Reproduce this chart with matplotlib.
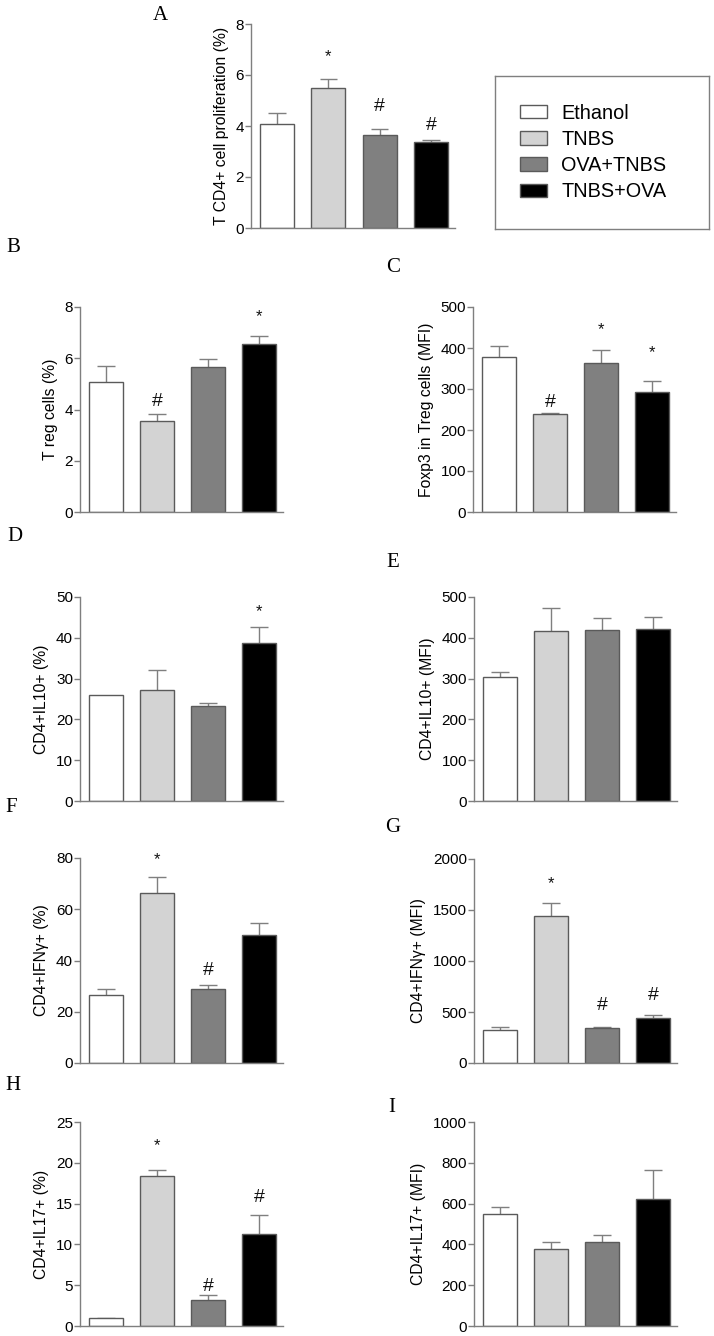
import numpy as np
import matplotlib
matplotlib.use("Agg")
import matplotlib.pyplot as plt
from matplotlib.patches import Patch

#groups and data (mean, sem, significance marks)
groups = ["Ethanol", "TNBS", "OVA+TNBS", "TNBS+OVA"]

A_mean = [4.08, 5.50, 3.64, 3.39]
A_sem = [0.43, 0.33, 0.26, 0.08]
A_sig = ["", "*", "#", "#"]
A_sig_y = [np.nan, 6.71, 4.75, 4.03]

B_mean = [5.07, 3.55, 5.64, 6.54]
B_sem = [0.61, 0.27, 0.32, 0.33]
B_sig = ["", "#", "", "*"]
B_sig_y = [np.nan, 4.32, np.nan, 7.63]

C_mean = [379, 239, 363, 293]
C_sem = [25, 2, 33, 27]
C_sig = ["", "#", "*", "*"]
C_sig_y = [np.nan, 267, 445, 388]

D_mean = [26.0, 27.1, 23.4, 38.8]
D_sem = [0.0, 4.9, 0.7, 3.9]
D_sig = ["", "", "", "*"]
D_sig_y = [np.nan, np.nan, np.nan, 46.3]

E_mean = [305, 417, 420, 421]
E_sem = [12, 56, 29, 30]
E_sig = ["", "", "", ""]
E_sig_y = [np.nan, np.nan, np.nan, np.nan]

F_mean = [26.7, 66.2, 28.7, 50.1]
F_sem = [2.2, 6.3, 1.9, 4.7]
F_sig = ["", "*", "#", ""]
F_sig_y = [np.nan, 79.3, 36.0, np.nan]

G_mean = [326, 1438, 342, 440]
G_sem = [23, 130, 7, 26]
G_sig = ["", "*", "#", "#"]
G_sig_y = [np.nan, 1760, 564, 659]

H_mean = [0.94, 18.43, 3.14, 11.3]
H_sem = [0.08, 0.66, 0.69, 2.36]
H_sig = ["", "*", "#", "#"]
H_sig_y = [np.nan, 22.1, 4.81, 15.74]

I_mean = [551, 378, 413, 622]
I_sem = [33, 35, 31, 145]
I_sig = ["", "", "", ""]
I_sig_y = [np.nan, np.nan, np.nan, np.nan]

#styles
bar_colors = ["#ffffff", "#d3d3d3", "#808080", "#000000"]
edge = "#5a5a5a"
axis_grey = "#7f7f7f"
sans = "Liberation Sans"
serif = "Liberation Serif"

W, H = 714, 1336
fig = plt.figure(figsize=(W / 100, H / 100), dpi=100)

def rect(x0, y0, x1, y1):
    # pixel box -> figure fraction
    return [x0 / W, 1 - y1 / H, (x1 - x0) / W, (y1 - y0) / H]

def panel(box, mean, sem, sig, sig_y, ymax, ystep, ylabel):
    ax = fig.add_axes(rect(*box))
    x = np.arange(len(mean))
    ax.bar(x, mean, width=0.66, color=bar_colors, edgecolor=edge, linewidth=1, zorder=2)
    top = np.array(mean) + np.array(sem)
    for i in range(len(mean)):
        if sem[i] > 0:
            ax.vlines(x[i], mean[i], top[i], color=axis_grey, linewidth=1, zorder=1)
            ax.hlines(top[i], x[i] - 0.17, x[i] + 0.17, color=axis_grey, linewidth=1, zorder=1)
        if sig[i]:
            fs = 12 if sig[i] == "*" else 14
            ax.text(x[i], sig_y[i], sig[i], ha="center", va="center", fontsize=fs,
                    family=sans, color="#111111")
    ax.set_xlim(-0.51, 3.47)
    ax.set_ylim(0, ymax)
    ax.set_yticks(np.arange(0, ymax + ystep / 2, ystep))
    ax.set_xticks([])
    for s in ["top", "right"]:
        ax.spines[s].set_visible(False)
    for s in ["left", "bottom"]:
        ax.spines[s].set_color(axis_grey)
        ax.spines[s].set_linewidth(1)
    ax.tick_params(axis="y", length=4, width=1, color=axis_grey, labelsize=11, pad=1)
    for t in ax.get_yticklabels():
        t.set_family(sans)
    ax.set_ylabel(ylabel, fontsize=11.3, family=sans, labelpad=5)
    return ax

panel((251, 24, 455, 228), A_mean, A_sem, A_sig, A_sig_y, 8, 2, "T CD4+ cell proliferation (%)")
panel((80, 307, 283, 512), B_mean, B_sem, B_sig, B_sig_y, 8, 2, "T reg cells (%)")
panel((473, 307, 676, 512), C_mean, C_sem, C_sig, C_sig_y, 500, 100, "Foxp3 in Treg cells (MFI)")
panel((80, 597, 283, 801), D_mean, D_sem, D_sig, D_sig_y, 50, 10, "CD4+IL10+ (%)")
panel((474, 597, 677, 801), E_mean, E_sem, E_sig, E_sig_y, 500, 100, "CD4+IL10+ (MFI)")
panel((80, 858, 283, 1063), F_mean, F_sem, F_sig, F_sig_y, 80, 20, "CD4+IFNγ+ (%)")
panel((474, 859, 677, 1063), G_mean, G_sem, G_sig, G_sig_y, 2000, 500, "CD4+IFNγ+ (MFI)")
panel((80, 1122, 283, 1326), H_mean, H_sem, H_sig, H_sig_y, 25, 5, "CD4+IL17+ (%)")
panel((474, 1122, 677, 1326), I_mean, I_sem, I_sig, I_sig_y, 1000, 200, "CD4+IL17+ (MFI)")

#panel letters
letters = [("A", 160, 15), ("B", 13, 247), ("C", 393, 268), ("D", 15, 537),
           ("E", 393, 563), ("F", 11, 807), ("G", 393, 828), ("H", 13, 1085), ("I", 392, 1108)]
for lab, px, py in letters:
    fig.text(px / W, 1 - py / H, lab, ha="center", va="center", fontsize=15, family=serif)

#legend box
ax_leg = fig.add_axes(rect(495, 76, 709, 229))
ax_leg.set_xticks([])
ax_leg.set_yticks([])
for s in ax_leg.spines.values():
    s.set_color(axis_grey)
    s.set_linewidth(1)
handles = [Patch(facecolor=c, edgecolor=edge, linewidth=1) for c in bar_colors]
ax_leg.legend(handles, groups, loc="center left", bbox_to_anchor=(0.117, 0.5), frameon=False,
              prop={"family": sans, "size": 14.3}, handlelength=1.36, handleheight=0.66,
              handletextpad=0.72, labelspacing=0.36, borderpad=0, borderaxespad=0)

fig.savefig("out.png", dpi=100)
